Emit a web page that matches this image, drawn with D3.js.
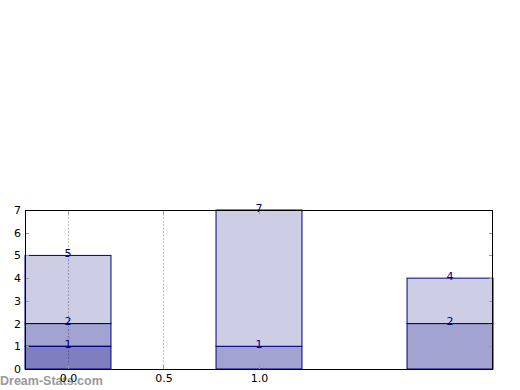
<!DOCTYPE html>
<html><head><meta charset="utf-8">
<script src="https://cdn.jsdelivr.net/npm/d3@7"></script>
<style>body{margin:0;background:#fff;}svg{display:block;}</style>
</head><body>
<script>
const categories = [0, 1, 2];
const seriesNames = ["A", "B", "C"];
const seriesA = [1, 0, 0];
const seriesB = [1, 1, 2];
const seriesC = [3, 6, 2];
const xTickValues = [0, 0.5, 1.0];
const xTickLabels = ["0.0", "0.5", "1.0"];
const yTickValues = [0, 1, 2, 3, 4, 5, 6, 7];

const W = 520, H = 390;
const m = {left: 25, right: 27, top: 210, bottom: 21};
const svg = d3.select("body").append("svg").attr("width", W).attr("height", H);

const x = d3.scaleLinear().domain([-0.225, 2.225]).range([m.left, W - m.right]);
const y = d3.scaleLinear().domain([0, 7]).range([H - m.bottom, m.top]);
const barW = 0.45;

const colors = ["#000080", "#000080", "#000080"];
const opac = [0.5, 0.36, 0.196];

// watermark
svg.append("text").attr("x", 0).attr("y", 385)
  .attr("font-family", "Liberation Sans, Arial, sans-serif").attr("font-weight", "bold")
  .attr("font-size", 12.5).attr("fill", "#9a9a9a").text("Dream-Stats.com");

// grid
svg.append("g").selectAll("line").data(xTickValues).join("line")
  .attr("x1", d => Math.round(x(d)) + 0.5).attr("x2", d => Math.round(x(d)) + 0.5)
  .attr("y1", y(7)).attr("y2", y(0))
  .attr("stroke", "#bbb").attr("stroke-width", 1).attr("stroke-dasharray", "2,1.5");

// stacked data
const table = categories.map((c, i) => ({cat: c, A: seriesA[i], B: seriesB[i], C: seriesC[i]}));
const stack = d3.stack().keys(seriesNames)(table);

const g = svg.append("g");
stack.forEach((layer, si) => {
  g.selectAll(null).data(layer.filter(d => d[1] - d[0] > 0)).join("rect")
    .attr("x", d => x(d.data.cat - barW / 2))
    .attr("y", d => y(d[1]))
    .attr("width", d => x(d.data.cat + barW / 2) - x(d.data.cat - barW / 2))
    .attr("height", d => y(d[0]) - y(d[1]))
    .attr("fill", (d) => {
      if (d.data.cat === 0) return colors[si];
      const a = opac[si];
      const c = d3.rgb(colors[si]);
      return d3.rgb(255 + (c.r - 255) * a, 255 + (c.g - 255) * a, 255 + (c.b - 255) * a).toString();
    })
    .attr("fill-opacity", d => d.data.cat === 0 ? opac[si] : 1)
    .attr("stroke", "#000080").attr("stroke-width", 1);
});

// labels
stack.forEach((layer, si) => {
  g.selectAll(null).data(layer.filter(d => d[1] - d[0] > 0)).join("text")
    .attr("x", d => x(d.data.cat))
    .attr("y", d => y(d[1]) + 1.5)
    .attr("text-anchor", "middle")
    .attr("font-family", "DejaVu Sans, sans-serif").attr("font-size", 11)
    .attr("fill", "#000080")
    .text(d => d[1]);
});

// inner tick marks
const tk = svg.append("g").attr("stroke", "#999").attr("stroke-width", 1);
yTickValues.forEach(v => {
  const yy = Math.round(y(v)) + 0.5;
  tk.append("line").attr("x1", x.range()[0]).attr("x2", x.range()[0] + 4).attr("y1", yy).attr("y2", yy);
  tk.append("line").attr("x1", x.range()[1] - 4).attr("x2", x.range()[1]).attr("y1", yy).attr("y2", yy);
});
xTickValues.forEach(v => {
  const xx = Math.round(x(v)) + 0.5;
  tk.append("line").attr("x1", xx).attr("x2", xx).attr("y1", y(0)).attr("y2", y(0) - 4);
  tk.append("line").attr("x1", xx).attr("x2", xx).attr("y1", y(7)).attr("y2", y(7) + 4);
});

// frame
svg.append("rect").attr("x", m.left + 0.5).attr("y", m.top + 0.5)
  .attr("width", W - m.left - m.right - 1).attr("height", H - m.top - m.bottom)
  .attr("fill", "none").attr("stroke", "#000").attr("stroke-width", 1);

// axes labels
const yAxis = d3.axisLeft(y).tickValues(yTickValues).tickSize(0).tickPadding(4).tickFormat(d3.format("d"));
const ga = svg.append("g").attr("transform", `translate(${m.left},0)`).call(yAxis);
ga.select(".domain").remove();
ga.selectAll("text").attr("font-family", "DejaVu Sans, sans-serif").attr("font-size", 11).attr("fill", "#000");

const xAxis = d3.axisBottom(x).tickValues(xTickValues).tickSize(0).tickPadding(5)
  .tickFormat((d, i) => xTickLabels[i]);
const gx = svg.append("g").attr("transform", `translate(0,${H - m.bottom})`).call(xAxis);
gx.select(".domain").remove();
gx.selectAll("text").attr("font-family", "DejaVu Sans, sans-serif").attr("font-size", 11).attr("fill", "#000");
</script>
</body></html>
